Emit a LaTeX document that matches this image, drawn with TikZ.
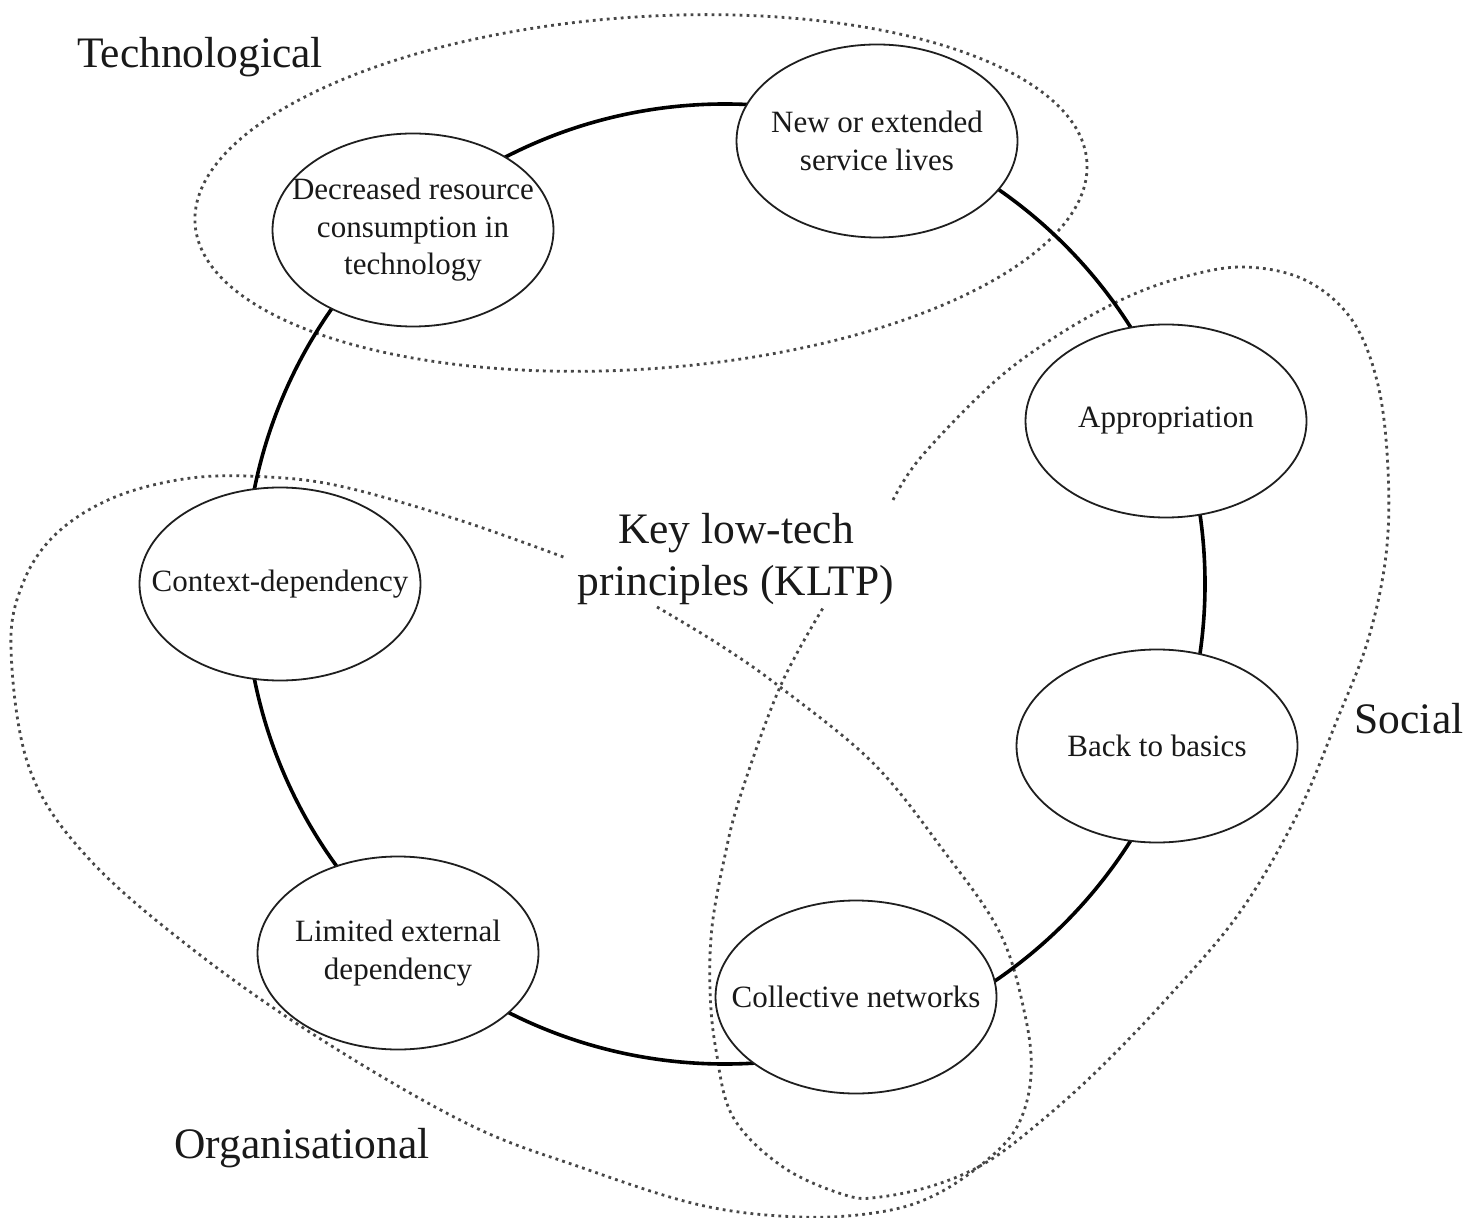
\documentclass[tikz,border=0pt]{standalone}
\usepackage{fontspec}
\setmainfont{Liberation Serif}
\usetikzlibrary{shapes.geometric}
\begin{document}
\begin{tikzpicture}[x=0.5pt,y=-0.5pt,
  kltp/.style={ellipse, draw=black!88, line width=0.9pt, fill=white,
    minimum width=140.5pt, minimum height=96.5pt, inner sep=0pt},
  lbl/.style={align=center, font=\fontsize{15.5}{18.75}\selectfont, text=black!90, inner sep=0pt},
  grp/.style={draw=black!72, line width=1.4pt, dash pattern=on 1.4pt off 2.1pt},
  bigtxt/.style={font=\fontsize{21.75}{26}\selectfont, text=black!90, inner sep=0pt},
  ring/.style={line width=1.8pt, draw=black}]
\fill[white] (0,0) rectangle (1481,1218);
\useasboundingbox (0,0) rectangle (1481,1218);

% group outlines
\coordinate (tc) at (641,193);
\draw[grp, rotate around={4:(tc)}] (tc) ellipse [x radius=223.5pt, y radius=88pt];

\draw[grp] plot[smooth, tension=0.6] coordinates {
 (893,500) (921,457) (993,383) (1055,337) (1121,300) (1180,278) (1243,267)
 (1305,280) (1352,320) (1378,385) (1388,470) (1386,555) (1368,640) (1337,720)
 (1297,815) (1240,912) (1170,995) (1100,1068) (1040,1122) (987,1162) (935,1185)
 (880,1197) (845,1195) (783,1167) (733,1117) (716,1050) (710,990) (712,927)
 (724,860) (740,797) (780,687) (823,608)};

\draw[grp] plot[smooth, tension=0.6] coordinates {
 (657,607) (720,645) (780,687) (873,763) (943,850) (1000,933) (1025,1015)
 (1031,1075) (1018,1125) (987,1160) (935,1195) (880,1212) (800,1217) (700,1205)
 (580,1167) (470,1125) (330,1045) (200,955) (90,860) (30,770) (11,650)
 (23,583) (57,533) (115,497) (191,478) (268,477) (344,487) (459,520)
 (566,558)};

% ring
\coordinate (c) at (725,584);
\draw[ring] (c) circle [radius=240pt];

% principle nodes
\node[kltp, label={[lbl]center:New or extended\\service lives}] (nes) at (877,141) {};
\node[kltp, label={[lbl]center:Decreased resource\\consumption in\\technology}] (drc) at (413,230) {};
\node[kltp, label={[lbl]center:Appropriation}] (app) at (1166,421) {};
\node[kltp, label={[lbl]center:Context-dependency}] (ctx) at (280,584) {};
\node[kltp, label={[lbl]center:Back to basics}] (btb) at (1157,746) {};
\node[kltp, label={[lbl]center:Limited external\\dependency}] (led) at (398,953) {};
\node[kltp, label={[lbl]center:Collective networks}] (col) at (856,997) {};

% texts
\node[bigtxt, align=center] (center) at (736,559) {Key low-tech\\principles (KLTP)};
\node[bigtxt, anchor=base] (tech) at (200,68) {Technological};
\node[bigtxt, anchor=base] (soc) at (1409,733) {Social};
\node[bigtxt, anchor=base] (org) at (302,1158) {Organisational};
\end{tikzpicture}
\end{document}
